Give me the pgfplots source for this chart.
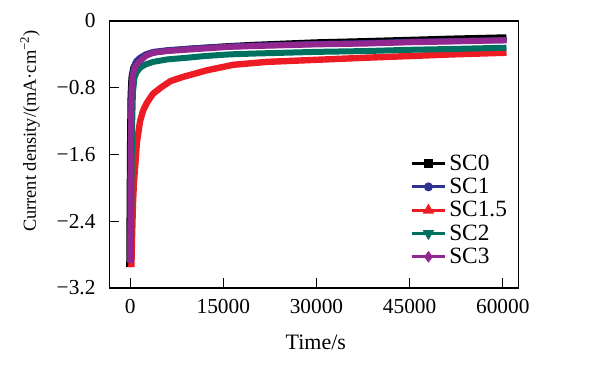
\documentclass[border=0pt]{standalone}
\usepackage{pgfplots}
\pgfplotsset{compat=1.18}
\usepackage{fontspec}
\setmainfont{Liberation Serif}
\definecolor{cBlue}{RGB}{46,49,146}
\definecolor{cRed}{RGB}{237,28,36}
\definecolor{cGreen}{RGB}{0,112,96}
\definecolor{cPurple}{RGB}{146,39,143}
\begin{document}
\begin{tikzpicture}
\path[use as bounding box] (0,0) rectangle (444pt,273.75pt);
\begin{axis}[
  at={(82.1pt,57.75pt)}, anchor=south west,
  scale only axis, width=307.1pt, height=200.25pt,
  xmin=-3330, xmax=62600, ymin=-3.2, ymax=0,
  axis line style={line width=0.8pt},
  tick style={line width=0.8pt, black},
  tick align=inside, major tick length=7.5pt,
  xtick={0,15000,30000,45000,60000},
  xticklabels={0,15000,30000,45000,60000},
  ytick={-3.2,-2.4,-1.6,-0.8,0},
  yticklabels={−3.2,−2.4,−1.6,−0.8,0},
  xtick pos=bottom, ytick pos=left,
  scaled ticks=false,
  ticklabel style={font=\fontsize{16}{18}\selectfont},
  xticklabel style={yshift=-5pt},
  yticklabel style={xshift=-7pt},
  xlabel={Time/s},
  ylabel={Current density/(mA·cm\textsuperscript{−2})},
  xlabel style={font=\fontsize{16.5}{18}\selectfont, at={(axis description cs:0.504,-0.202)}, anchor=center},
  ylabel style={font=\fontsize{13.8}{16}\selectfont, at={(axis description cs:-0.194,0.588)}, anchor=center},
  legend style={at={(axis description cs:0.734,0.51)}, anchor=north west, draw=none, fill=none,
    font=\fontsize{17.5}{19}\selectfont, inner sep=0pt, row sep=0.4pt},
  legend cell align=left,
  legend image code/.code={\draw[mark repeat=2,mark phase=2] plot coordinates {(0cm,0cm) (0.44cm,0cm) (0.88cm,0cm)};},
]
\addlegendimage{black, line width=2.2pt, mark=square*, mark size=2pt, mark options={solid}}
\addlegendentry{SC0}
\addlegendimage{cBlue, line width=2.2pt, mark=*, mark size=2.2pt}
\addlegendentry{SC1}
\addlegendimage{cRed, line width=2.2pt, mark=triangle*, mark size=2.8pt}
\addlegendentry{SC1.5}
\addlegendimage{cGreen, line width=2.2pt, mark=triangle*, mark size=2.8pt, mark options={rotate=180}}
\addlegendentry{SC2}
\addlegendimage{cPurple, line width=2.2pt, mark=diamond*, mark size=2.6pt}
\addlegendentry{SC3}

% SC0
\addplot[black, line width=4.5pt, forget plot, line join=round] coordinates {
(-150,-2.95)(-100,-2.3)(-20,-1.4)(60,-0.9)(200,-0.68)(500,-0.56)(900,-0.50)(1600,-0.46)(2500,-0.41)(3700,-0.38)(6000,-0.355)(9000,-0.335)(12000,-0.32)(16000,-0.30)(20000,-0.285)(25000,-0.27)(30000,-0.255)(38000,-0.24)(45000,-0.225)(52000,-0.21)(60600,-0.195)};
% SC1
\addplot[cBlue, line width=4.5pt, forget plot, line join=round] coordinates {
(0,-2.9)(60,-1.8)(150,-1.0)(300,-0.70)(600,-0.55)(1000,-0.48)(1600,-0.44)(2500,-0.40)(3700,-0.37)(6000,-0.35)(9000,-0.335)(12000,-0.32)(16000,-0.305)(20000,-0.295)(25000,-0.285)(30000,-0.275)(38000,-0.265)(45000,-0.25)(52000,-0.24)(60600,-0.23)};
% SC1.5
\addplot[cRed, line width=4.8pt, forget plot, line join=round] coordinates {
(200,-2.95)(300,-2.6)(450,-2.2)(600,-1.95)(800,-1.75)(1100,-1.45)(1600,-1.2)(2100,-1.07)(2700,-0.98)(3700,-0.87)(5100,-0.79)(6500,-0.72)(8500,-0.67)(12400,-0.59)(16600,-0.525)(22000,-0.49)(30000,-0.465)(38000,-0.44)(45000,-0.42)(52000,-0.40)(60600,-0.38)};
% SC2
\addplot[cGreen, line width=4.5pt, forget plot, line join=round] coordinates {
(100,-2.9)(200,-2.0)(300,-1.3)(450,-0.85)(700,-0.68)(1000,-0.62)(1600,-0.56)(2500,-0.52)(3700,-0.49)(6000,-0.46)(9200,-0.44)(12000,-0.42)(16000,-0.40)(20000,-0.39)(25000,-0.38)(30000,-0.37)(38000,-0.36)(45000,-0.345)(52000,-0.335)(60600,-0.32)};
% SC3
\addplot[cPurple, line width=4.5pt, forget plot, line join=round] coordinates {
(30,-2.9)(80,-2.0)(150,-1.2)(250,-0.80)(450,-0.64)(800,-0.55)(1200,-0.51)(1600,-0.48)(2500,-0.42)(3700,-0.38)(6000,-0.36)(9000,-0.345)(12000,-0.33)(16000,-0.31)(20000,-0.30)(25000,-0.29)(30000,-0.28)(38000,-0.27)(45000,-0.255)(52000,-0.245)(60600,-0.23)};
\end{axis}
\end{tikzpicture}
\end{document}
